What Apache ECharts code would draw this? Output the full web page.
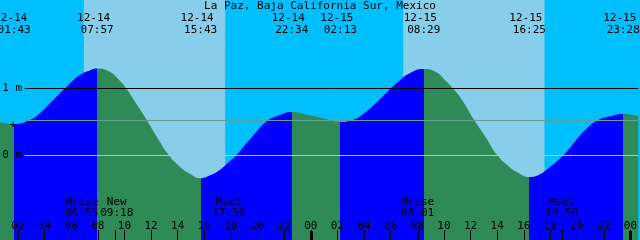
<!DOCTYPE html>
<html><head><meta charset="utf-8">
<script src="https://cdn.jsdelivr.net/npm/echarts@6/dist/echarts.min.js"></script>
<style>html,body{margin:0;padding:0;background:#fff;overflow:hidden}#c{width:640px;height:240px}</style>
</head><body><div id="c"></div>
<script>
// ---------- data (hours counted from 12-14 00:00) ----------
const chartTitle = 'La Paz, Baja California Sur, Mexico';
const tideHours   = [0.65, 2.90, 3.65, 4.40, 5.15, 5.52, 6.64, 7.39, 8.89, 9.64, 10.14, 10.64, 11.64, 12.39, 13.31, 14.13, 14.88,
                     16.38, 17.13, 17.88, 18.38, 19.38, 20.63, 21.63, 23.87, 24.62, 25.37, 27.12, 27.87, 28.87, 29.99, 30.61, 31.36,
                     33.36, 34.11, 34.68, 35.36, 36.23, 37.11, 37.98, 38.85, 39.60, 41.10, 41.85, 42.85, 43.60, 44.60, 45.60, 46.59, 48.59];
const tideHeights = [0.50, 0.53, 0.63, 0.78, 0.93, 1.00, 1.20, 1.27, 1.25, 1.12, 1.00, 0.85, 0.54, 0.29, 0.01, -0.16, -0.27,
                     -0.30, -0.22, -0.09, 0.00, 0.23, 0.50, 0.60, 0.60, 0.57, 0.53, 0.53, 0.61, 0.78, 1.00, 1.11, 1.22,
                     1.25, 1.12, 1.00, 0.83, 0.54, 0.28, 0.01, -0.16, -0.26, -0.29, -0.19, -0.02, 0.15, 0.38, 0.53, 0.59, 0.59];
const extremeDates   = ['12-14', '12-14', '12-14', '12-14', '12-15', '12-15', '12-15', '12-15'];
const extremeTimes   = ['01:43', '07:57', '15:43', '22:34', '02:13', '08:29', '16:25', '23:28'];
const extremeTypes   = ['low', 'high', 'low', 'high', 'low', 'high', 'low', 'high'];
const extremeHeights = [0.47, 1.30, -0.34, 0.65, 0.50, 1.29, -0.32, 0.62];
const sunriseTimes = [['12-14', '06:57'], ['12-15', '06:56']];
const sunsetTimes  = [['12-14', '17:35'], ['12-15', '17:34']];
const moonNames = ['Mrise', 'New', 'Mset', 'Mrise', 'Mset'];
const moonTimes = [['12-14', '06:55'], ['12-14', '09:18'], ['12-14', '17:50'], ['12-15', '08:01'], ['12-15', '18:50']];
const hourTicks = [2, 4, 6, 8, 10, 12, 14, 16, 18, 20, 22, 24, 26, 28, 30, 32, 34, 36, 38, 40, 42, 44, 46, 48];
const midnightTicks = [24, 48];
const levelValues = [1, 0.522, 0];
const levelLabels = ['1 m', '+', '0 m'];

// ---------- helpers ----------
const FONT = '"DejaVu Sans Mono", "Liberation Mono", monospace';
function toHours(d, s) { const p = s.split(':'); return (d === '12-15' ? 24 : 0) + (+p[0]) + (+p[1]) / 60; }
const pad = n => (n < 10 ? '0' : '') + n;

const xMin = 0.652, xMax = 48.592;
const yMin = -1.2612, yMax = 2.3209;
const lineStart = 2.52;
const NIGHT = '#00BFFF', DAY = '#87CEEB', RISE = '#0000FF', FALL = '#2E8B57';

// sky bands
const rises = sunriseTimes.map(a => toHours(a[0], a[1]));
const sets = sunsetTimes.map(a => toHours(a[0], a[1]));
const sky = [
  [{ xAxis: xMin, itemStyle: { color: NIGHT } }, { xAxis: rises[0] }],
  [{ xAxis: rises[0], itemStyle: { color: DAY } }, { xAxis: sets[0] }],
  [{ xAxis: sets[0], itemStyle: { color: NIGHT } }, { xAxis: rises[1] }],
  [{ xAxis: rises[1], itemStyle: { color: DAY } }, { xAxis: sets[1] }],
  [{ xAxis: sets[1], itemStyle: { color: NIGHT } }, { xAxis: xMax }]
];

// tide points (one continuous curve, coloured by rising / falling phase)
const extT = extremeTimes.map((s, i) => toHours(extremeDates[i], s));
let pts = tideHours.map((t, i) => [t, tideHeights[i]]);
extT.forEach((t, i) => pts.push([t, extremeHeights[i]]));
pts.sort((a, b) => a[0] - b[0]);
const bounds = [-100, ...extT, 100];
const pieces = [];
for (let k = 0; k < bounds.length - 1; k++) {
  const nextType = k < extremeTypes.length ? extremeTypes[k] : 'low';
  pieces.push({ gte: bounds[k], lt: bounds[k + 1], color: nextType === 'high' ? RISE : FALL });
}

const series = [];
series.push({ type: 'line', data: [], z: 0, silent: true,
  markArea: { silent: true, data: sky } });
series.push({ type: 'line', data: [], z: 1, silent: true,
  markLine: { silent: true, symbol: 'none', animation: false, label: { show: false },
    lineStyle: { color: '#000', width: 1, type: 'solid' },
    data: [[{ coord: [lineStart, levelValues[0]] }, { coord: [xMax, levelValues[0]] }]] } });
series.push({ type: 'line', data: pts, z: 2, smooth: 0.5, symbol: 'none', silent: true, animation: false,
  lineStyle: { width: 0 }, areaStyle: { opacity: 1, origin: 'start' } });
series.push({ type: 'line', data: [], z: 3, silent: true,
  markLine: { silent: true, symbol: 'none', animation: false, label: { show: false },
    data: [
      [{ coord: [lineStart, levelValues[1]], lineStyle: { color: '#62a08e', width: 1, type: 'solid' } }, { coord: [xMax, levelValues[1]] }],
      [{ coord: [lineStart, levelValues[2]], lineStyle: { color: '#8fd0ef', width: 1, type: 'solid' } }, { coord: [xMax, levelValues[2]] }]
    ] } });

const chart = echarts.init(document.getElementById('c'), null, { renderer: 'canvas' });
chart.setOption({
  animation: false,
  backgroundColor: NIGHT,
  grid: { left: 0, right: 0, top: 0, bottom: 0, containLabel: false },
  visualMap: { type: 'piecewise', show: false, dimension: 0, seriesIndex: 2, pieces },
  xAxis: [
    { type: 'value', min: xMin, max: xMax, z: 50,
      axisLine: { show: false, onZero: false }, splitLine: { show: false },
      axisTick: { show: true, inside: true, length: 10, customValues: hourTicks, lineStyle: { color: '#000', width: 1 } },
      axisLabel: { show: true, inside: true, margin: 14, customValues: hourTicks, verticalAlign: 'middle',
        color: '#000', fontFamily: FONT, fontSize: 11, formatter: v => pad(Math.round(v) % 24) } },
    { type: 'value', min: xMin, max: xMax, z: 51, position: 'bottom', offset: 0,
      axisLine: { show: false, onZero: false }, splitLine: { show: false }, axisLabel: { show: false },
      axisTick: { show: true, inside: true, length: 9, customValues: midnightTicks, lineStyle: { color: '#000', width: 3 } } }
  ],
  yAxis: { type: 'value', min: yMin, max: yMax, show: false },
  series
});

// ---------- text and extra marks ----------
const X = t => chart.convertToPixel({ xAxisIndex: 0 }, t);
const Y = v => chart.convertToPixel({ yAxisIndex: 0 }, v);
const g = [];
const txt = (text, x, y, align) => g.push({ type: 'text', x, y, z: 100, silent: true,
  style: { text, font: '11px ' + FONT, fill: '#000', align: align || 'center', verticalAlign: 'middle',
           textAlign: align || 'center', textVerticalAlign: 'middle' } });
txt(chartTitle, 320, 6);
extT.forEach((t, i) => { txt(extremeDates[i], X(t) - 3.5, 18); txt(extremeTimes[i], X(t), 30); });
// moon labels: centered on their time, pushed apart when they would collide
const moonT = moonTimes.map(m => toHours(m[0], m[1]));
const cx = moonT.map(X);
const labelW = 35;
for (let i = 1; i < cx.length; i++) {
  const gap = cx[i] - cx[i - 1];
  if (gap < labelW) { const d = (labelW - gap) / 2; cx[i - 1] -= d; cx[i] += d; }
}
moonTimes.forEach((m, i) => {
  const x = Math.round(X(moonT[i])) + 0.5;
  txt(moonNames[i], cx[i], 202);
  txt(m[1], cx[i], 213);
  g.push({ type: 'line', z: 100, silent: true, shape: { x1: x, y1: 230, x2: x, y2: 240 }, style: { stroke: '#000', lineWidth: 1 } });
});
txt(levelLabels[0], 22, Y(levelValues[0]), 'right');
txt(levelLabels[1], 13, Y(levelValues[1]) + 4.5, 'center');
txt(levelLabels[2], 22, Y(levelValues[2]), 'right');
chart.setOption({ graphic: g });
</script></body></html>
